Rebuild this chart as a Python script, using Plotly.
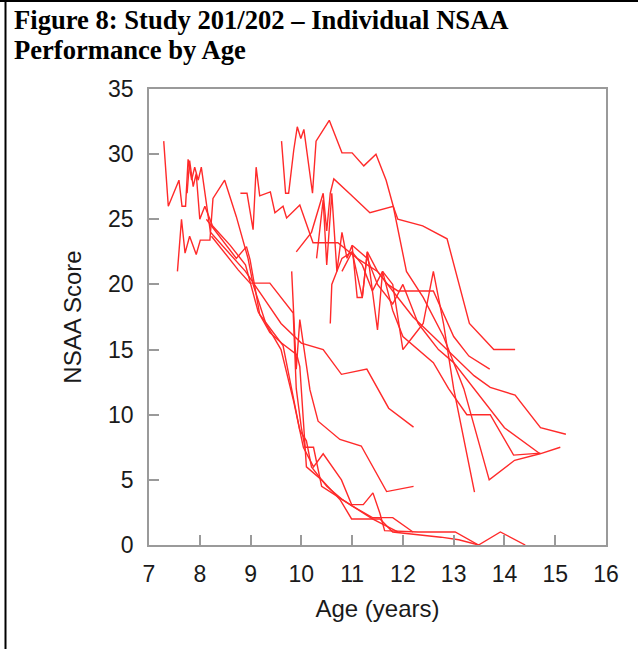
import plotly.graph_objects as go

# individual subject trajectories: (age in years, NSAA score)
s01_age = [7.29, 7.38, 7.59, 7.65, 7.72, 7.77, 7.84, 7.9, 7.97, 8.03, 8.21, 8.55, 8.9, 9.25, 9.6, 10.0, 10.43, 10.79, 11.29, 11.72, 12.21]
s01_nsaa = [31, 26, 28, 26, 26, 29.6, 28, 29, 28, 29, 24, 22.5, 21, 19, 17, 15.5, 15, 13.1, 13.5, 10.5, 9.05]

s02_age = [7.56, 7.64, 7.71, 7.8, 7.93, 8.01, 8.2, 8.26, 8.49, 8.72, 8.95, 9.05, 9.3, 9.6, 9.85, 10.04, 10.24, 10.43, 10.79, 10.99, 11.22, 11.41, 11.55, 11.64, 12.3, 13.03, 13.49, 13.92, 14.41]
s02_nsaa = [21, 25, 22.4, 23.7, 22.3, 23.4, 23.4, 26.6, 28, 25.2, 22, 20, 17, 15, 11, 7.5, 6, 7, 5, 3.1, 3.1, 4, 2.4, 1.1, 1.0, 1.0, 0, 1, 0]

s03_age = [7.75, 7.8, 7.87, 7.93, 8.0, 8.1, 8.25, 8.6, 8.9, 9.15, 9.38, 9.61, 9.91, 9.97, 10.1, 10.4, 10.76, 10.99, 11.55, 11.8, 12.75, 13.1, 13.49]
s03_nsaa = [27, 29.5, 27.5, 28.5, 25, 26, 24.5, 23, 21.5, 17.9, 16.3, 15.5, 14.6, 13.7, 6, 5, 3.5, 2, 2, 1, 0.6, 0.4, 0]

s04_age = [8.8, 8.93, 9.05, 9.11, 9.18, 9.39, 9.48, 9.64, 9.71, 9.97, 10.23, 10.72, 11.1, 11.5, 11.9, 12.2, 12.6, 13.0, 13.4, 13.72, 14.21, 14.71, 15.21]
s04_nsaa = [27, 27, 24.2, 29, 26.8, 27.1, 25.5, 26, 25.1, 26.1, 23.2, 23.2, 22, 21, 19, 17.5, 16, 14.5, 13, 12.1, 11.5, 9.0, 8.5]

s05_age = [9.61, 9.69, 9.75, 9.85, 9.92, 9.99, 10.05, 10.22, 10.29, 10.55, 10.8, 11.0, 11.23, 11.47, 11.67, 11.81, 12.07, 12.4, 12.8, 13.2, 13.7, 14.2, 14.7, 15.1]
s05_nsaa = [31, 27, 27, 30.3, 32.1, 31.2, 31.9, 27, 31, 32.6, 30.1, 30.1, 29.1, 30, 28, 26, 21, 19, 16, 12, 5, 6.5, 7, 7.5]

s06_age = [9.9, 10.2, 10.43, 10.5, 10.57, 10.64, 10.97, 11.35, 11.81, 11.9, 12.39, 12.87, 13.31, 13.79, 14.21]
s06_nsaa = [22.5, 24, 27, 24.1, 27, 28.1, 26.9, 25.5, 26, 25, 24.5, 23.5, 17, 15, 15]

s07_age = [9.81, 9.86, 9.9, 9.97, 10.1, 10.17, 10.33, 10.76, 11.18, 11.68, 12.21]
s07_nsaa = [21, 17, 13.5, 17.3, 14, 11.9, 9.5, 8.1, 7.6, 4.1, 4.5]

s08_age = [8.13, 8.72, 8.92, 8.99, 9.18, 9.64, 9.97, 10.1, 10.2, 10.5, 10.8, 11.0, 11.4, 11.9]
s08_nsaa = [25, 22, 22.9, 21.9, 17.7, 15.3, 8.8, 8, 6, 4.5, 3.5, 3.0, 2.0, 1.0]

s09_age = [10.3, 10.43, 10.5, 10.6, 10.7, 10.8, 10.9, 11.0, 11.1, 11.2, 11.3, 11.5, 11.7, 11.9, 12.2, 12.6, 13.0, 13.3, 13.71]
s09_nsaa = [22, 26.5, 21.5, 27, 21, 24, 22, 23, 19, 19, 22.5, 21, 20, 19.5, 19.5, 19.5, 16, 14.5, 13.5]

s10_age = [10.57, 10.6, 10.8, 11.0, 11.2, 11.4, 11.6, 11.8, 12.0, 12.3, 12.6, 12.9, 13.26, 13.72, 14.18, 14.71]
s10_nsaa = [17, 20, 22, 22.5, 21.5, 19.5, 21, 18, 16, 15, 14, 12, 10, 10, 6.9, 7.05]

s11_age = [10.8, 11.0, 11.2, 11.3, 11.5, 11.6, 11.8, 12.0, 12.2, 12.4, 12.6, 12.8, 13.0, 13.2, 13.41]
s11_nsaa = [21, 22.5, 19, 22.5, 16.5, 21, 20, 15, 16, 17, 21, 17, 12, 8, 4.05]

s12_age = [11.0, 11.3, 11.5, 11.8, 12.0, 12.3, 12.5, 12.7, 13.0, 13.3, 13.6, 14.0, 14.7]
s12_nsaa = [23, 22, 20, 18.5, 20, 17, 16, 15, 14, 12.5, 11, 9, 7]

s13_age = [8.23, 8.76, 8.99, 9.38, 9.84, 9.9, 10.0, 10.07, 10.24, 10.4, 10.8, 11.0, 11.4, 11.8, 12.2]
s13_nsaa = [23.7, 21.1, 20.1, 20.1, 17.8, 12, 9, 7.5, 7.5, 4.5, 3.5, 3, 2.1, 2.1, 1.0]

subjects = [
    (s01_age, s01_nsaa), (s02_age, s02_nsaa), (s03_age, s03_nsaa), (s04_age, s04_nsaa),
    (s05_age, s05_nsaa), (s06_age, s06_nsaa), (s07_age, s07_nsaa), (s08_age, s08_nsaa),
    (s09_age, s09_nsaa), (s10_age, s10_nsaa), (s11_age, s11_nsaa), (s12_age, s12_nsaa),
    (s13_age, s13_nsaa),
]

x_ticks = [7, 8, 9, 10, 11, 12, 13, 14, 15, 16]
y_ticks = [0, 5, 10, 15, 20, 25, 30, 35]

fig = go.Figure()

for ages, scores in subjects:
    fig.add_trace(go.Scatter(
        x=ages, y=scores, mode="lines",
        line=dict(color="#ff2a2a", width=1.4),
        showlegend=False, hoverinfo="x+y",
    ))

axis_common = dict(
    showline=True, linecolor="#9a9a9a", linewidth=1.5, mirror=True,
    showgrid=False, zeroline=False,
    ticks="inside", ticklen=10, tickwidth=1.5, tickcolor="#9a9a9a",
    tickfont=dict(family="Liberation Sans", size=23, color="#1a1a1a"),
)
title_font = dict(family="Liberation Sans", size=24, color="#1a1a1a")
head_font = dict(family="Liberation Serif", size=26.6, color="black")

# plot area is 457 x 456 px; paper offsets below are in those pixels
fig.update_layout(
    width=638, height=649,
    paper_bgcolor="white", plot_bgcolor="white",
    margin=dict(l=149, r=32, t=89, b=104),
    xaxis=dict(range=[7, 16], tickvals=x_ticks, ticklabelstandoff=8,
               title=dict(text="Age (years)", font=title_font, standoff=14),
               **axis_common),
    yaxis=dict(range=[0, 35], tickvals=y_ticks, ticklabelstandoff=9,
               title=dict(text="NSAA Score", font=title_font, standoff=20),
               **axis_common),
    annotations=[
        dict(text="<b>Figure 8: Study 201/202 – Individual NSAA</b>", xref="paper", yref="paper",
             x=-137 / 457, y=1 + 69 / 456, xanchor="left", yanchor="middle", showarrow=False,
             font=head_font),
        dict(text="<b>Performance by Age</b>", xref="paper", yref="paper",
             x=-137 / 457, y=1 + 39 / 456, xanchor="left", yanchor="middle", showarrow=False,
             font=head_font),
    ],
    shapes=[
        dict(type="line", xref="paper", yref="paper", x0=-143.5 / 457, x1=-143.5 / 457, y0=-104 / 456, y1=1 + 89 / 456,
             line=dict(color="black", width=2)),
        dict(type="line", xref="paper", yref="paper", x0=-149 / 457, x1=1 + 32 / 457, y0=1 + 88 / 456, y1=1 + 88 / 456,
             line=dict(color="black", width=2)),
    ],
)

fig.write_html("out.html", config={"displayModeBar": False},
               post_script="document.body.style.margin='0';")
